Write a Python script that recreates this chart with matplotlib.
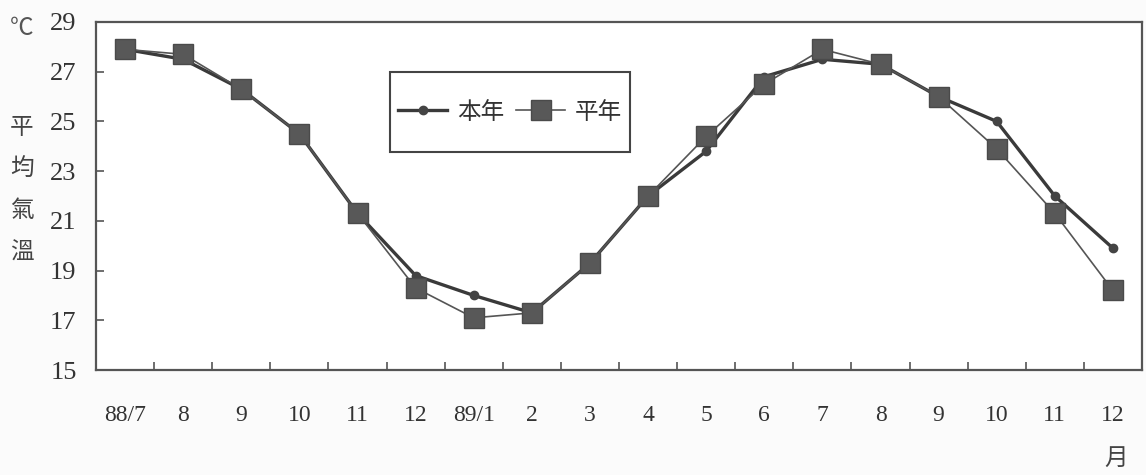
import numpy as np
import matplotlib.pyplot as plt
from matplotlib.patches import Rectangle

plt.rcParams['font.family'] = ['Liberation Serif', 'Noto Sans CJK TC', 'DejaVu Sans']

# 月份 (88/7 ~ 89/12)
months = ['88/7', '8', '9', '10', '11', '12', '89/1', '2', '3', '4', '5', '6',
          '7', '8', '9', '10', '11', '12']
# 本年月平均氣溫
this_year = [27.9, 27.5, 26.3, 24.5, 21.3, 18.8, 18.0, 17.3, 19.3, 22.0, 23.8, 26.8,
             27.5, 27.3, 26.0, 25.0, 22.0, 19.9]
# 平年月平均氣溫
normal = [27.9, 27.7, 26.3, 24.5, 21.3, 18.3, 17.1, 17.3, 19.3, 22.0, 24.4, 26.5,
          27.9, 27.3, 26.0, 23.9, 21.3, 18.2]
yticks = [15, 17, 19, 21, 23, 25, 27, 29]

x = np.arange(len(months))

fig = plt.figure(figsize=(11.46, 4.75), dpi=100, facecolor='#fbfbfb')
ax = fig.add_axes([0.0838, 0.221, 0.9127, 0.7327])
ax.set_facecolor('white')

ax.plot(x, this_year, color='#3a3a3a', lw=2.4, marker='o', ms=6,
        mfc='#444444', mec='#444444', label='本年', zorder=3)
ax.plot(x, normal, color='#555555', lw=1.2, marker='s', ms=15,
        mfc='#585858', mec='#4a4a4a', label='平年', zorder=4)

ax.set_xlim(-0.5, len(months) - 0.5)
ax.set_ylim(15, 29)
ax.set_yticks(yticks)
ax.set_yticklabels([str(v) for v in yticks], fontsize=19, color='#333333')
ax.set_xticks(x)
ax.set_xticklabels(months, fontsize=17, color='#333333')
ax.set_xticks(np.arange(0.5, len(months) - 0.5), minor=True)

ax.tick_params(axis='x', which='major', length=0, pad=25)
ax.tick_params(axis='x', which='minor', direction='in', length=6, width=1.2, color='#555555')
ax.tick_params(axis='y', direction='in', length=6, width=1.2, color='#555555', pad=14)

for s in ax.spines.values():
    s.set_color('#555555')
    s.set_linewidth(1.6)

# 圖例外框
ax.add_patch(Rectangle((0.281, 0.626), 0.2295, 0.23, transform=ax.transAxes,
                       facecolor='white', edgecolor='#444444', lw=1.5, zorder=5))
leg = ax.legend(loc='center', bbox_to_anchor=(0.281 + 0.2295 / 2, 0.626 + 0.115), ncol=2,
                frameon=False, borderpad=0.2, handlelength=2.1, handletextpad=0.4,
                columnspacing=0.5, prop={'family': ['Noto Sans CJK TC'], 'size': 17})
leg.set_zorder(6)
for t in leg.get_texts():
    t.set_color('#333333')

# 縱軸標題
fig.text(0.019, 0.94, '℃', fontsize=17, color='#555555', ha='center', va='center',
         family=['Noto Sans CJK TC', 'DejaVu Sans'])
fig.text(0.019, 0.6, '平\n均\n氣\n溫', fontsize=17, color='#444444', ha='center',
         va='center', linespacing=2.05, family=['Noto Sans CJK TC'])
fig.text(0.974, 0.035, '月', fontsize=17, color='#444444', ha='center', va='center',
         family=['Noto Sans CJK TC'])

fig.savefig('out.png', dpi=100, facecolor=fig.get_facecolor())
